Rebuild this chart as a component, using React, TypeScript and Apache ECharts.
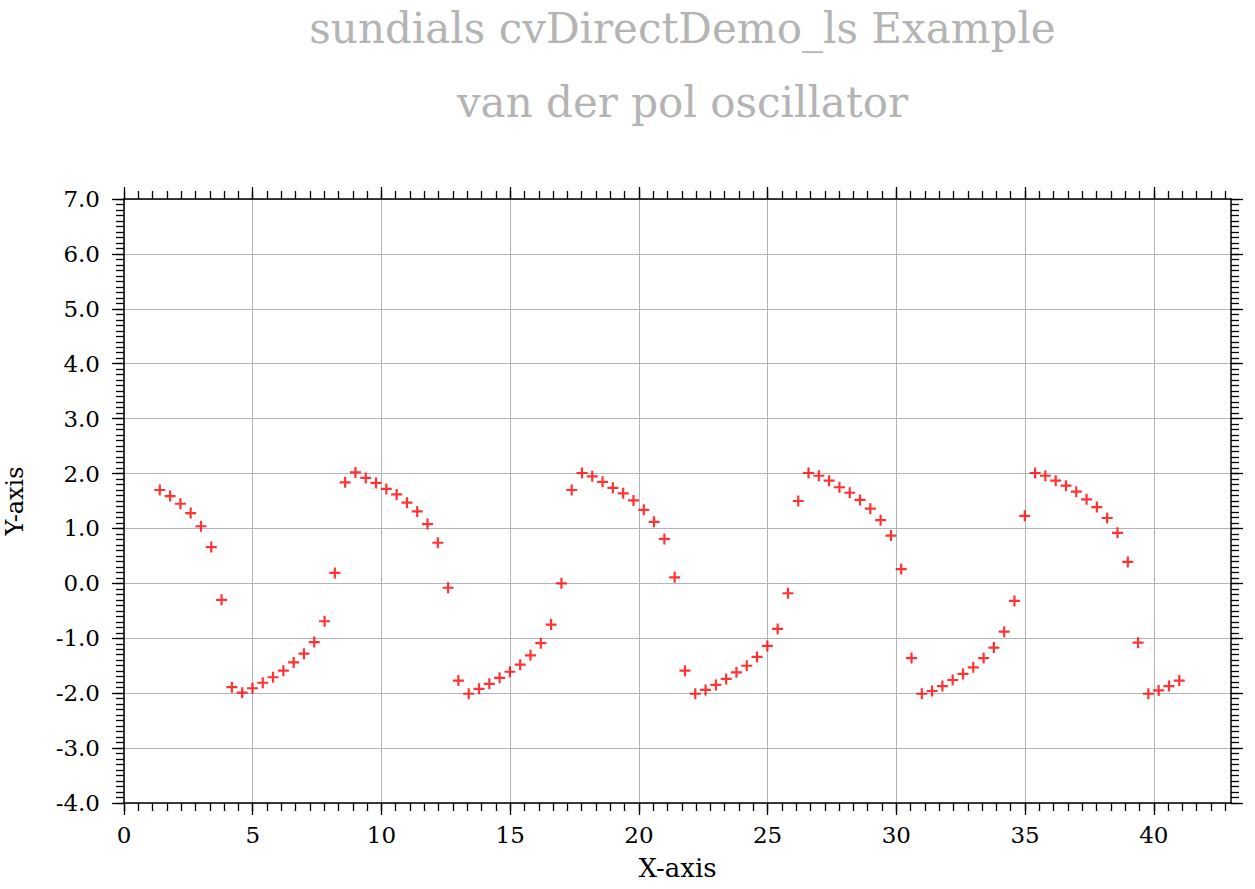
import React, { useEffect, useRef } from "react";
import * as echarts from "echarts";

// ---- data ----
const timeValues = [
  1.39, 1.79, 2.19, 2.59, 2.99, 3.39, 3.79, 4.19, 4.59, 4.99,
  5.39, 5.79, 6.19, 6.59, 6.99, 7.39, 7.79, 8.19, 8.59, 8.99,
  9.39, 9.79, 10.19, 10.59, 10.99, 11.39, 11.79, 12.19, 12.59, 12.99,
  13.39, 13.79, 14.19, 14.59, 14.99, 15.39, 15.79, 16.19, 16.59, 16.99,
  17.39, 17.79, 18.19, 18.59, 18.99, 19.39, 19.79, 20.19, 20.59, 20.99,
  21.39, 21.79, 22.19, 22.59, 22.99, 23.39, 23.79, 24.19, 24.59, 24.99,
  25.39, 25.79, 26.19, 26.59, 26.99, 27.39, 27.79, 28.19, 28.59, 28.99,
  29.39, 29.79, 30.19, 30.59, 30.99, 31.39, 31.79, 32.19, 32.59, 32.99,
  33.39, 33.79, 34.19, 34.59, 34.99, 35.39, 35.79, 36.19, 36.59, 36.99,
  37.39, 37.79, 38.19, 38.59, 38.99, 39.39, 39.79, 40.19, 40.59, 40.99,
];

const yValues = [
  1.70, 1.59, 1.45, 1.28, 1.04, 0.66, -0.30, -1.89, -1.99, -1.91,
  -1.81, -1.71, -1.59, -1.44, -1.28, -1.07, -0.69, 0.19, 1.84, 2.02,
  1.92, 1.83, 1.72, 1.62, 1.47, 1.31, 1.08, 0.74, -0.08, -1.77,
  -2.01, -1.92, -1.83, -1.72, -1.61, -1.48, -1.31, -1.09, -0.75, 0.0,
  1.70, 2.01, 1.95, 1.85, 1.74, 1.64, 1.51, 1.34, 1.12, 0.81,
  0.11, -1.59, -2.01, -1.94, -1.85, -1.74, -1.62, -1.50, -1.34, -1.14,
  -0.83, -0.18, 1.50, 2.01, 1.96, 1.87, 1.75, 1.65, 1.52, 1.36,
  1.15, 0.87, 0.26, -1.36, -2.01, -1.96, -1.87, -1.76, -1.65, -1.53,
  -1.36, -1.17, -0.88, -0.32, 1.23, 2.01, 1.96, 1.87, 1.78, 1.67,
  1.53, 1.39, 1.19, 0.92, 0.39, -1.08, -2.01, -1.95, -1.87, -1.77,
];

const xMajorTicks = [0, 5, 10, 15, 20, 25, 30, 35, 40];
const yMajorTicks = [-4, -3, -2, -1, 0, 1, 2, 3, 4, 5, 6, 7];
const X_MIN = 0;
const X_MAX = 43;
const Y_MIN = -4;
const Y_MAX = 7;
const X_MINOR_PER_MAJOR = 9; // 9 sub-intervals between x majors
const Y_MINOR_PER_MAJOR = 10; // 10 sub-intervals between y majors

const titleText = "sundials cvDirectDemo_ls Example";
const subtitleText = "van der pol oscillator";
const xName = "X-axis";
const yName = "Y-axis";

const FONT = "DejaVu Serif";

export default function App() {
  const ref = useRef<HTMLDivElement>(null);

  useEffect(() => {
    if (!ref.current) return;
    const chart = echarts.init(ref.current, null, { renderer: "svg" });

    // minor axes use a scaled range so that minor ticks fall on integers
    const xMinorScale = X_MINOR_PER_MAJOR / 5;
    const xMinorMax = X_MAX * xMinorScale;
    const xMinorTicks: number[] = [];
    for (let i = 0; i <= Math.floor(xMinorMax + 1e-9); i++) xMinorTicks.push(i);
    const yMinorScale = Y_MINOR_PER_MAJOR / 1;

    const lineStyle = { color: "#000", width: 1.5 };
    const tickStyle = { color: "#000", width: 1.3 };

    const majorX = (position: "bottom" | "top", main: boolean) => ({
      type: "value",
      position,
      min: X_MIN,
      max: X_MAX,
      interval: 5,
      name: main ? xName : "",
      nameLocation: "middle",
      nameGap: 52,
      nameTextStyle: { fontFamily: FONT, fontSize: 26, color: "#000" },
      axisLine: { show: true, onZero: false, lineStyle },
      axisTick: {
        show: true,
        inside: false,
        length: 12,
        customValues: xMajorTicks,
        lineStyle: tickStyle,
      },
      axisLabel: {
        show: main,
        customValues: xMajorTicks,
        margin: 20,
        fontFamily: FONT,
        fontSize: 23,
        color: "#000",
        formatter: (v: number) => String(v),
      },
      splitLine: { show: main, lineStyle: { color: "#b4b4b4", width: 1 } },
    });

    const minorX = (position: "bottom" | "top") => ({
      type: "value",
      position,
      min: 0,
      max: xMinorMax,
      interval: 1,
      axisLine: { show: false, onZero: false },
      axisTick: {
        show: true,
        inside: false,
        length: 8,
        customValues: xMinorTicks,
        lineStyle: tickStyle,
      },
      axisLabel: { show: false },
      splitLine: { show: false },
    });

    const majorY = (position: "left" | "right", main: boolean) => ({
      type: "value",
      position,
      min: Y_MIN,
      max: Y_MAX,
      interval: 1,
      name: main ? yName : "",
      nameLocation: "middle",
      nameRotate: 90,
      nameGap: 97,
      nameTextStyle: { fontFamily: FONT, fontSize: 24, lineHeight: 24, color: "#000" },
      axisLine: { show: true, onZero: false, lineStyle },
      axisTick: {
        show: true,
        inside: false,
        length: 12,
        customValues: yMajorTicks,
        lineStyle: tickStyle,
      },
      axisLabel: {
        show: main,
        customValues: yMajorTicks,
        margin: 24,
        fontFamily: FONT,
        fontSize: 23,
        color: "#000",
        formatter: (v: number) => v.toFixed(1),
      },
      splitLine: { show: main, lineStyle: { color: "#b4b4b4", width: 1 } },
    });

    const minorY = (position: "left" | "right") => ({
      type: "value",
      position,
      min: Y_MIN * yMinorScale,
      max: Y_MAX * yMinorScale,
      interval: 1,
      axisLine: { show: false, onZero: false },
      axisTick: { show: true, inside: false, length: 8, lineStyle: tickStyle },
      axisLabel: { show: false },
      splitLine: { show: false },
    });

    const data = timeValues.map((t, i) => [t, yValues[i]]);

    chart.setOption({
      animation: false,
      backgroundColor: "#fff",
      title: {
        text: titleText,
        subtext: subtitleText,
        left: 677.5,
        top: 2,
        textAlign: "center",
        itemGap: 32,
        textStyle: {
          fontFamily: FONT,
          fontSize: 42,
          fontWeight: "normal",
          color: "#b4b4b4",
        },
        subtextStyle: {
          fontFamily: FONT,
          fontSize: 42,
          color: "#b4b4b4",
        },
      },
      grid: {
        left: 124,
        right: 24,
        top: 199,
        bottom: 86,
        containLabel: false,
        outerBoundsMode: "none",
      },
      xAxis: [majorX("bottom", true), minorX("bottom"), majorX("top", false), minorX("top")],
      yAxis: [majorY("left", true), minorY("left"), majorY("right", false), minorY("right")],
      series: [
        {
          type: "scatter",
          xAxisIndex: 0,
          yAxisIndex: 0,
          data,
          symbol: "path://M4,0H6V4H10V6H6V10H4V6H0V4H4Z",
          symbolSize: 11,
          itemStyle: { color: "#ff0000" },
        },
      ],
    });

    return () => {
      chart.dispose();
    };
  }, []);

  return (
    <div
      ref={ref}
      style={{ position: "fixed", left: 0, top: 0, width: 1255, height: 889, background: "#fff" }}
    />
  );
}
